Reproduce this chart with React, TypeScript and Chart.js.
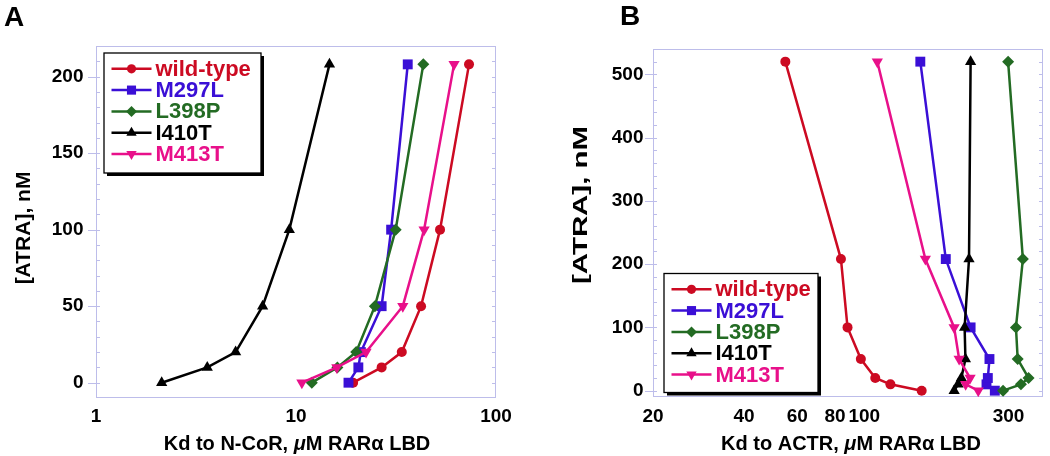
import React, { useEffect, useRef } from 'react';
import { Chart, registerables } from 'chart.js';

Chart.register(...registerables);

// ---------- data ----------
const SERIES_NAMES = ['wild-type', 'M297L', 'L398P', 'I410T', 'M413T'];

// Panel A: Kd to N-CoR (µM) vs [ATRA] (nM)
const A_ATRA = [0, 10, 20, 50, 100, 208];
const A_WILD_TYPE = [19.3, 26.8, 33.8, 42.2, 52.5, 73.3];
const A_M297L = [18.3, 20.5, 21.1, 26.8, 29.9, 36.2];
const A_L398P = [12.0, 16.1, 20.0, 24.8, 31.5, 43.3];
const A_I410T = [2.13, 3.6, 4.99, 6.81, 9.26, 14.7];
const A_M413T = [10.7, 16.0, 22.4, 34.2, 43.7, 61.7];

// Panel B: Kd to ACTR (µM) vs [ATRA] (nM)
const B_ATRA = [0, 10, 20, 50, 100, 208, 520];
const B_WILD_TYPE = [154.8, 122, 108.7, 97.4, 88, 83.7, 54.8];
const B_M297L = [270.2, 253.6, 256.2, 259.4, 224.7, 186, 153.2];
const B_L398P = [287.7, 329.7, 349.4, 321.6, 317.4, 334.6, 299];
const B_I410T = [198.2, 204.3, 209.4, 216, 214.7, 222, 224.7];
const B_M413T = [238.2, 216.4, 223.8, 205.9, 198.2, 159.2, 110.4];

const A_X_TICKS = [1, 10, 100];
const A_Y_TICKS = [0, 50, 100, 150, 200];
const B_X_TICKS = [20, 40, 60, 80, 100, 300];
const B_Y_TICKS = [0, 100, 200, 300, 400, 500];

// ---------- styles ----------
const FONT = '"Liberation Sans", Arial, Helvetica, sans-serif';
const COLORS = ['#cc0a22', '#3a0fd6', '#236b23', '#000000', '#e8108a'];
const MARKERS = ['circle', 'rect', 'rectRot', 'triangle', 'triangle'];
const ROTATIONS = [0, 0, 0, 0, 180];
const RADII = [5, 7, 6, 6.5, 6.5];
const DRAW_ORDER = [5, 4, 3, 2, 1];
const FRAME = '#bdbdea';

type PanelCfg = {
  letter: string;
  letterPos: [number, number];
  xSeries: number[][];
  ySeries: number[];
  xMin: number; xMax: number; yMin: number; yMax: number;
  xTicks: number[]; yTicks: number[]; yMinorStep: number;
  xTitle: { t: string; italic?: boolean }[];
  xTitlePos: [number, number];
  yTitle: string;
  yTitlePos: [number, number];
  yTitleSize: number;
  yTitleStretch: number;
  padding: { left: number; right: number; top: number; bottom: number };
  yWidth: number; xHeight: number; yPad: number; xPad: number;
  legend: { dx: number; dy: number; fromBottom: boolean; w: number; h: number };
};

const PANEL_A: PanelCfg = {
  letter: 'A',
  letterPos: [14, 18],
  xSeries: [A_WILD_TYPE, A_M297L, A_L398P, A_I410T, A_M413T],
  ySeries: A_ATRA,
  xMin: 1, xMax: 100, yMin: -10, yMax: 220,
  xTicks: A_X_TICKS, yTicks: A_Y_TICKS, yMinorStep: 10,
  xTitle: [{ t: 'Kd to N-CoR, ' }, { t: 'μ', italic: true }, { t: 'M RARα LBD' }],
  xTitlePos: [297, 444],
  yTitle: '[ATRA], nM',
  yTitlePos: [24, 228],
  yTitleSize: 21,
  yTitleStretch: 1,
  padding: { left: 0, right: 29, top: 46, bottom: 0 },
  yWidth: 96, xHeight: 58, yPad: 12.5, xPad: 7,
  legend: { dx: 8, dy: 7, fromBottom: false, w: 157, h: 120 },
};

const PANEL_B: PanelCfg = {
  letter: 'B',
  letterPos: [105, 17],
  xSeries: [B_WILD_TYPE, B_M297L, B_L398P, B_I410T, B_M413T],
  ySeries: B_ATRA,
  xMin: 20, xMax: 390, yMin: -10, yMax: 540,
  xTicks: B_X_TICKS, yTicks: B_Y_TICKS, yMinorStep: 20,
  xTitle: [{ t: 'Kd to ACTR, ' }, { t: 'μ', italic: true }, { t: 'M RARα LBD' }],
  xTitlePos: [326, 444],
  yTitle: '[ATRA], nM',
  yTitlePos: [56, 205],
  yTitleSize: 21,
  yTitleStretch: 1.4,
  padding: { left: 0, right: 3, top: 49, bottom: 0 },
  yWidth: 128, xHeight: 59, yPad: 9.5, xPad: 8,
  legend: { dx: 11, dy: 4.5, fromBottom: true, w: 154, h: 119 },
};

function drawShape(ctx: CanvasRenderingContext2D, type: string, x: number, y: number, r: number, rotDeg: number) {
  ctx.beginPath();
  if (type === 'circle') {
    ctx.arc(x, y, r, 0, Math.PI * 2);
  } else if (type === 'rect') {
    const s = Math.SQRT1_2 * r;
    ctx.rect(x - s, y - s, 2 * s, 2 * s);
  } else if (type === 'rectRot') {
    ctx.moveTo(x, y - r);
    ctx.lineTo(x + r, y);
    ctx.lineTo(x, y + r);
    ctx.lineTo(x - r, y);
    ctx.closePath();
  } else {
    let rad = (rotDeg * Math.PI) / 180;
    ctx.moveTo(x + Math.sin(rad) * r, y - Math.cos(rad) * r);
    rad += (2 * Math.PI) / 3;
    ctx.lineTo(x + Math.sin(rad) * r, y - Math.cos(rad) * r);
    rad += (2 * Math.PI) / 3;
    ctx.lineTo(x + Math.sin(rad) * r, y - Math.cos(rad) * r);
    ctx.closePath();
  }
  ctx.fill();
}

function decorPlugin(cfg: PanelCfg) {
  return {
    id: 'decor' + cfg.letter,
    beforeDatasetsDraw(chart: any) {
      const ctx: CanvasRenderingContext2D = chart.ctx;
      const a = chart.chartArea;
      const ys = chart.scales.y;
      ctx.save();
      ctx.strokeStyle = FRAME;
      ctx.lineWidth = 1;
      ctx.strokeRect(a.left + 0.5, a.top + 0.5, a.right - a.left - 1, a.bottom - a.top - 1);
      ctx.beginPath();
      for (let v = 0; v <= cfg.yMax; v += cfg.yMinorStep) {
        const py = Math.round(ys.getPixelForValue(v)) + 0.5;
        const major = cfg.yTicks.includes(v);
        ctx.moveTo(a.left - (major ? 8 : 0), py);
        ctx.lineTo(a.left + 4, py);
        ctx.moveTo(a.right - 4, py);
        ctx.lineTo(a.right, py);
      }
      ctx.stroke();
      ctx.restore();
    },
    afterDraw(chart: any) {
      const ctx: CanvasRenderingContext2D = chart.ctx;
      const a = chart.chartArea;
      ctx.save();
      // panel letter
      ctx.fillStyle = '#000';
      ctx.font = `bold 28px ${FONT}`;
      ctx.textAlign = 'center';
      ctx.textBaseline = 'middle';
      ctx.fillText(cfg.letter, cfg.letterPos[0], cfg.letterPos[1]);
      // y title
      ctx.save();
      ctx.translate(cfg.yTitlePos[0], cfg.yTitlePos[1]);
      ctx.rotate(-Math.PI / 2);
      ctx.scale(cfg.yTitleStretch, 1);
      ctx.font = `bold ${cfg.yTitleSize}px ${FONT}`;
      ctx.fillText(cfg.yTitle, 0, 0);
      ctx.restore();
      // x title (rich)
      ctx.textAlign = 'left';
      const segFont = (it?: boolean) => `${it ? 'italic ' : ''}bold 20px ${FONT}`;
      let total = 0;
      for (const s of cfg.xTitle) { ctx.font = segFont(s.italic); total += ctx.measureText(s.t).width; }
      let x = cfg.xTitlePos[0] - total / 2;
      for (const s of cfg.xTitle) {
        ctx.font = segFont(s.italic);
        ctx.fillText(s.t, x, cfg.xTitlePos[1]);
        x += ctx.measureText(s.t).width;
      }
      // legend
      const L = cfg.legend;
      const bx = a.left + L.dx;
      const by = L.fromBottom ? a.bottom - L.dy - L.h : a.top + L.dy;
      ctx.fillStyle = '#000';
      ctx.fillRect(bx + 3, by + 3, L.w, L.h);
      ctx.fillStyle = '#fff';
      ctx.fillRect(bx, by, L.w, L.h);
      ctx.strokeStyle = '#000';
      ctx.lineWidth = 1.3;
      ctx.strokeRect(bx, by, L.w, L.h);
      ctx.font = `bold 22px ${FONT}`;
      ctx.textBaseline = 'middle';
      SERIES_NAMES.forEach((name, i) => {
        const ry = by + 15.8 + i * 21.3;
        ctx.strokeStyle = COLORS[i];
        ctx.lineWidth = 2.5;
        ctx.beginPath();
        ctx.moveTo(bx + 7.5, ry);
        ctx.lineTo(bx + 47.5, ry);
        ctx.stroke();
        ctx.fillStyle = COLORS[i];
        drawShape(ctx, MARKERS[i], bx + 27.5, ry, RADII[i] * 0.92, ROTATIONS[i]);
        ctx.fillText(name, bx + 51.5, ry + 1);
      });
      ctx.restore();
    },
  };
}

function buildConfig(cfg: PanelCfg): any {
  const tickFont = { family: FONT, size: 19, weight: 'bold' as const };
  return {
    type: 'scatter',
    data: {
      datasets: SERIES_NAMES.map((name, i) => ({
        label: name,
        data: cfg.xSeries[i].map((xv, k) => ({ x: xv, y: cfg.ySeries[k] })),
        showLine: true,
        borderColor: COLORS[i],
        backgroundColor: COLORS[i],
        borderWidth: 2.5,
        pointStyle: MARKERS[i],
        rotation: ROTATIONS[i],
        pointRadius: RADII[i],
        pointBorderWidth: 0,
        order: DRAW_ORDER[i],
      })),
    },
    options: {
      animation: false,
      responsive: false,
      layout: { padding: cfg.padding },
      plugins: { legend: { display: false }, tooltip: { enabled: false } },
      scales: {
        x: {
          type: 'logarithmic',
          min: cfg.xMin,
          max: cfg.xMax,
          grid: { display: false, drawTicks: false },
          border: { display: false },
          ticks: {
            font: tickFont, color: '#000', padding: cfg.xPad, maxRotation: 0, autoSkip: false,
            callback: (v: any) => String(v),
          },
          afterBuildTicks: (s: any) => { s.ticks = cfg.xTicks.map((v) => ({ value: v })); },
          afterFit: (s: any) => { s.height = cfg.xHeight; },
        },
        y: {
          type: 'linear',
          min: cfg.yMin,
          max: cfg.yMax,
          grid: { display: false, drawTicks: false },
          border: { display: false },
          ticks: {
            font: tickFont, color: '#000', padding: cfg.yPad, autoSkip: false,
            callback: (v: any) => String(v),
          },
          afterBuildTicks: (s: any) => { s.ticks = cfg.yTicks.map((v) => ({ value: v })); },
          afterFit: (s: any) => { s.width = cfg.yWidth; },
        },
      },
    },
    plugins: [decorPlugin(cfg)],
  };
}

function Panel({ cfg, left }: { cfg: PanelCfg; left: number }) {
  const ref = useRef<HTMLCanvasElement>(null);
  useEffect(() => {
    const chart = new Chart(ref.current as HTMLCanvasElement, buildConfig(cfg));
    return () => chart.destroy();
  }, [cfg]);
  return (
    <canvas
      ref={ref}
      width={525}
      height={456}
      style={{ position: 'absolute', left, top: 0, width: 525, height: 456 }}
    />
  );
}

export default function App() {
  return (
    <div style={{ position: 'absolute', left: 0, top: 0, width: 1050, height: 456, background: '#fff', overflow: 'hidden' }}>
      <Panel cfg={PANEL_A} left={0} />
      <Panel cfg={PANEL_B} left={525} />
    </div>
  );
}
